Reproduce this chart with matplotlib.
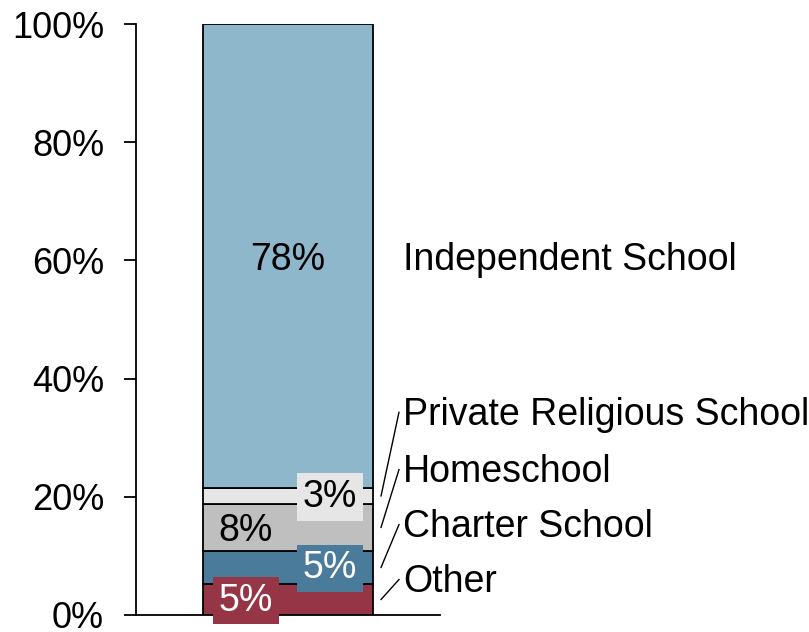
import matplotlib.pyplot as plt

plt.rcParams['font.family'] = ['Liberation Sans', 'DejaVu Sans']

# data, bottom to top
schools = ['Other', 'Charter School', 'Homeschool', 'Private Religious School', 'Independent School']
shares = [5.25, 5.6, 7.95, 2.7, 78.5]
share_labels = ['5%', '5%', '8%', '3%', '78%']
colors = ['#963545', '#4a7b9a', '#bfbfbf', '#e6e6e6', '#8fb7cc']
text_colors = ['white', 'white', 'black', 'black', 'black']
boxed = [True, True, False, True, False]

# layout: where the percent labels sit (x) and where the names sit (y, %)
pct_x = [0.362, 0.638, 0.362, 0.638, 0.5]
name_y = [6.0, 15.3, 24.6, 34.3, None]

fig = plt.figure(figsize=(8.09, 6.32), dpi=100)
ax = fig.add_axes([0.1681, 0.0269, 0.3758, 0.9351])

bottom = 0
for i, (name, val) in enumerate(zip(schools, shares)):
    ax.bar(0.5, val, width=0.556, bottom=bottom, color=colors[i],
           edgecolor='black', linewidth=1.3)
    mid = bottom + val / 2

    # percent label, boxed where it spills over a segment edge
    if boxed[i]:
        ax.text(pct_x[i], mid + 0.5, share_labels[i], ha='center', va='center_baseline',
                fontsize=27, color=text_colors[i],
                bbox=dict(boxstyle='square,pad=0.15', facecolor=colors[i],
                          edgecolor='none'))
    else:
        ax.text(pct_x[i], mid, share_labels[i], ha='center', va='center_baseline',
                fontsize=27, color=text_colors[i])

    # category name on the right
    if name_y[i] is None:
        ax.text(0.878, mid, name, ha='left', va='center_baseline', fontsize=27,
                clip_on=False)
    else:
        ax.plot([0.806, 0.865], [mid, name_y[i]], color='black',
                linewidth=1, clip_on=False)
        ax.text(0.878, name_y[i] + 0.3, name, ha='left', va='center_baseline',
                fontsize=27, clip_on=False)
    bottom += val

ax.set_xlim(0, 1)
ax.set_ylim(0, 100)
ax.set_yticks([0, 20, 40, 60, 80, 100])
ax.set_yticklabels(['0%', '20%', '40%', '60%', '80%', '100%'], fontsize=26)
ax.set_xticks([])
ax.spines['top'].set_visible(False)
ax.spines['right'].set_visible(False)
ax.spines['left'].set_linewidth(1.3)
ax.spines['bottom'].set_linewidth(1.3)
ax.tick_params(axis='y', length=9, width=1.3, pad=14)

fig.savefig('out.png', dpi=100)
